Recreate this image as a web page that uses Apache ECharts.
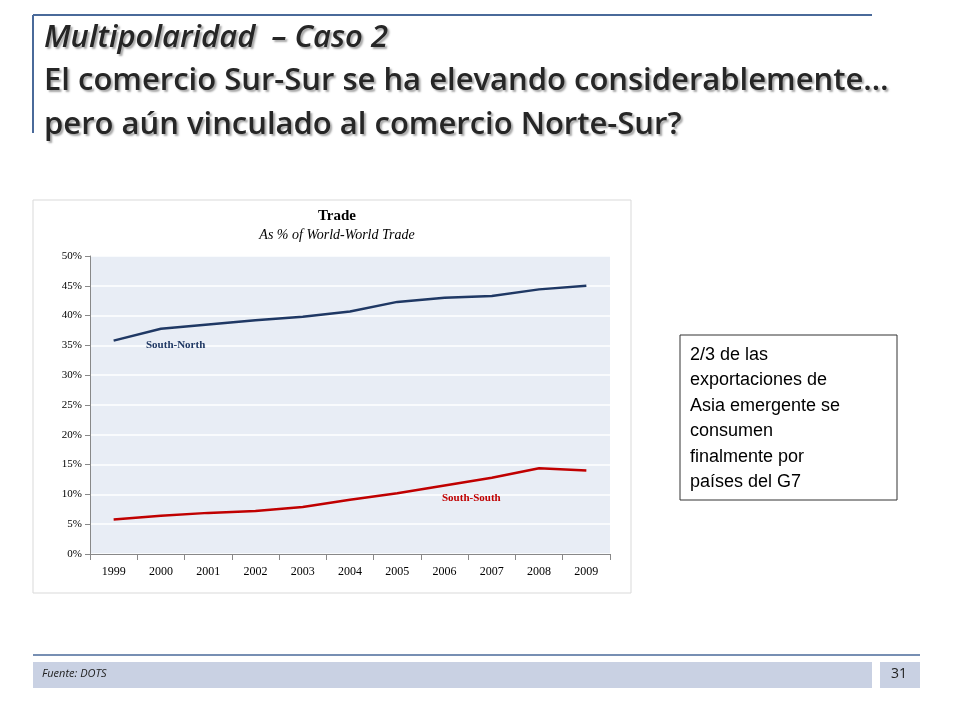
<!DOCTYPE html>
<html><head><meta charset="utf-8">
<script src="https://cdn.jsdelivr.net/npm/echarts@6/dist/echarts.min.js"></script>
<style>html,body{margin:0;padding:0;background:#fff}#c{width:960px;height:720px}</style>
</head><body><div id="c"></div>
<script>
const years = ['1999','2000','2001','2002','2003','2004','2005','2006','2007','2008','2009'];
const southNorth = [35.8, 37.8, 38.5, 39.2, 39.8, 40.7, 42.3, 43.0, 43.3, 44.4, 45.0];
const southSouth = [5.8, 6.4, 6.9, 7.2, 7.9, 9.1, 10.2, 11.5, 12.8, 14.4, 14.0];
const yTicks = [0, 5, 10, 15, 20, 25, 30, 35, 40, 45, 50];

const chart = echarts.init(document.getElementById('c'));
const serif = '"Liberation Serif", "DejaVu Serif", serif';
const cal = '"Open Sans", "Noto Sans", sans-serif';
const sh = {textShadowColor:'rgba(0,0,0,0.35)', textShadowOffsetX:2, textShadowOffsetY:2, textShadowBlur:2};
chart.setOption({
  animation: false,
  graphic: [
    {type:'rect', shape:{x:33,y:200,width:598,height:393}, style:{fill:'#fff',stroke:'#d9d9d9',lineWidth:1}, z:-10},
    {type:'line', shape:{x1:33,y1:15,x2:872,y2:15}, style:{stroke:'#4a6a9a',lineWidth:2}},
    {type:'line', shape:{x1:33,y1:15,x2:33,y2:133}, style:{stroke:'#4a6a9a',lineWidth:2}},
    {type:'text', left:44, top:23, style:Object.assign({text:'Multipolaridad  – Caso 2', font:'italic 600 31px '+cal, fill:'#262626'}, sh)},
    {type:'text', left:44, top:66, style:Object.assign({text:'El comercio Sur-Sur se ha elevando considerablemente…', font:'600 31px '+cal, fill:'#262626'}, sh)},
    {type:'text', left:44, top:110, style:Object.assign({text:'pero aún vinculado al comercio Norte-Sur?', font:'600 31px '+cal, fill:'#262626'}, sh)},
    {type:'rect', shape:{x:680,y:335,width:217,height:165}, style:{fill:'#fff',stroke:'#333',lineWidth:1}},
    {type:'text', left:690, top:342, style:{text:'2/3 de las\nexportaciones de\nAsia emergente se\nconsumen\nfinalmente por\npaíses del G7', font:'18px "Liberation Sans", Arial, sans-serif', lineHeight:25.5, fill:'#000'}},
    {type:'line', shape:{x1:33,y1:655,x2:920,y2:655}, style:{stroke:'#4a6a9a',lineWidth:1.5}},
    {type:'rect', shape:{x:33,y:662,width:839,height:26}, style:{fill:'#c9d1e3'}},
    {type:'text', left:42, top:668, style:{text:'Fuente: DOTS', font:'italic 11px '+cal, fill:'#222'}},
    {type:'rect', shape:{x:880,y:662,width:40,height:26}, style:{fill:'#c9d1e3'}},
    {type:'text', left:891, top:667, style:{text:'31', font:'14px '+cal, fill:'#222'}},
    {type:'text', left:442, top:493, z:100, style:{text:'South-South', font:'bold 11px '+serif, fill:'#c00000'}},
    {type:'text', left:146, top:340, z:100, style:{text:'South-North', font:'bold 11px '+serif, fill:'#1f3864'}}
  ],
  title: {
    text: 'Trade', subtext: 'As % of World-World Trade', left: 332, textAlign: 'center', top: 204, itemGap: 4,
    textStyle: {fontFamily: serif, fontWeight: 'bold', fontSize: 15, color: '#000'},
    subtextStyle: {fontFamily: serif, fontStyle: 'italic', fontSize: 14, color: '#000'}
  },
  grid: {left: 90, right: 350, top: 256, bottom: 166, show: true, backgroundColor: '#e8edf5', borderWidth: 0},
  xAxis: {
    type: 'category', data: years, boundaryGap: true,
    axisLine: {lineStyle: {color: '#888'}}, axisTick: {show: true, length: 6, lineStyle: {color: '#888'}},
    axisLabel: {fontFamily: serif, fontSize: 12, color: '#000', margin: 12}
  },
  yAxis: {
    type: 'value', min: 0, max: 50, interval: 5,
    axisLine: {show: true, lineStyle: {color: '#888'}}, axisTick: {show: true, length: 5, lineStyle: {color: '#888'}},
    splitLine: {lineStyle: {color: '#fff', width: 1.5}},
    axisLabel: {fontFamily: serif, fontSize: 11, color: '#000', formatter: v => yTicks.includes(v) ? v + '%' : ''}
  },
  series: [
    {name: 'South-North', type: 'line', data: southNorth, symbol: 'none', lineStyle: {color: '#1f3864', width: 2.5}},
    {name: 'South-South', type: 'line', data: southSouth, symbol: 'none', lineStyle: {color: '#c00000', width: 2.5}}
  ]
});
</script></body></html>
